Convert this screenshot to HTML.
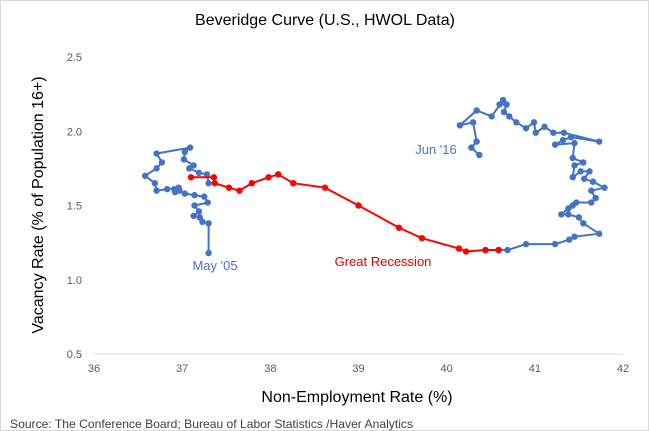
<!DOCTYPE html>
<html><head><meta charset="utf-8"><style>
body{margin:0;background:#fff;}
svg{display:block;font-family:"Liberation Sans",sans-serif;}
</style></head><body>
<svg id="chart" width="649" height="431">
<rect x="0.5" y="0.5" width="648" height="430" fill="#fff" stroke="#d9d9d9"/>
<text x="325" y="25" text-anchor="middle" font-size="16" fill="#000">Beveridge Curve (U.S., HWOL Data)</text>
<text transform="translate(43,205) rotate(-90)" text-anchor="middle" font-size="16" fill="#000">Vacancy Rate (% of Population 16+)</text>
<text x="357" y="402" text-anchor="middle" font-size="16" fill="#000">Non-Employment Rate (%)</text>
<text x="10" y="428" font-size="12" textLength="403" lengthAdjust="spacingAndGlyphs" fill="#404040">Source: The Conference Board; Bureau of Labor Statistics /Haver Analytics</text>
<g id="axes"></g>
<g id="series"></g>
<text x="215" y="270" text-anchor="middle" font-size="13" fill="#4472c4">May '05</text>
<text x="383" y="266" text-anchor="middle" font-size="13" fill="#e00000">Great Recession</text>
<text x="436" y="154" text-anchor="middle" font-size="13" fill="#4472c4">Jun '16</text>
</svg>
<script>
const xTicks=[36,37,38,39,40,41,42];
const yTicks=[0.5,1.0,1.5,2.0,2.5];
const preX=[37.30,37.30,37.23,37.20,37.13,37.19,37.14,37.29,37.25,37.14,37.03,36.97,36.92,36.91,36.96,36.83,36.71,36.69,36.58,36.71,36.77,36.71,37.09,37.03,37.02,37.13,37.08,37.19,37.28,37.30];
const preY=[1.18,1.38,1.39,1.42,1.43,1.46,1.50,1.52,1.56,1.57,1.58,1.60,1.59,1.61,1.62,1.61,1.60,1.65,1.70,1.75,1.79,1.85,1.89,1.86,1.81,1.77,1.75,1.72,1.71,1.65];
const recX=[37.10,37.36,37.37,37.53,37.65,37.79,37.98,38.09,38.26,38.62,39.00,39.46,39.72,40.14,40.22,40.44,40.59];
const recY=[1.69,1.69,1.65,1.62,1.60,1.65,1.69,1.71,1.65,1.62,1.50,1.35,1.28,1.21,1.19,1.20,1.20];
const postX=[40.59,40.69,40.90,41.23,41.39,41.45,41.73,41.55,41.50,41.38,41.30,41.38,41.43,41.47,41.64,41.69,41.64,41.79,41.66,41.56,41.62,41.52,41.43,41.45,41.55,41.43,41.45,41.23,41.32,41.41,41.73,41.33,41.21,41.11,41.01,40.99,40.90,40.79,40.71,40.65,40.68,40.60,40.64,40.51,40.34,40.15,40.30,40.34,40.28,40.37];
const postY=[1.20,1.20,1.24,1.24,1.27,1.29,1.31,1.38,1.42,1.44,1.44,1.48,1.50,1.52,1.52,1.55,1.60,1.62,1.66,1.68,1.73,1.73,1.69,1.77,1.79,1.82,1.92,1.91,1.94,1.96,1.93,1.99,1.99,2.03,1.99,2.06,2.02,2.06,2.10,2.13,2.18,2.18,2.21,2.10,2.14,2.04,2.06,1.93,1.89,1.84];
const NS="http://www.w3.org/2000/svg";
const X0=94,X1=623,Y0=354,Y1=57;
const sx=v=>X0+(v-36)/6*(X1-X0);
const sy=v=>Y0-(v-0.5)/2*(Y0-Y1);
const axes=document.getElementById('axes'),series=document.getElementById('series');
function mk(tag,attrs,parent){const e=document.createElementNS(NS,tag);for(const k in attrs)e.setAttribute(k,attrs[k]);parent.appendChild(e);return e;}
const base=mk('line',{x1:X0,x2:X1,y1:sy(0.5),y2:sy(0.5),stroke:'#d9d9d9'},axes);


yTicks.forEach(t=>{const e=mk('text',{x:X0-12,y:sy(t)+4,'text-anchor':'end','font-size':11,fill:'#595959'},axes);e.textContent=t.toFixed(1);

});
xTicks.forEach(t=>{const e=mk('text',{x:sx(t),y:372,'text-anchor':'middle','font-size':11,fill:'#595959'},axes);e.textContent=t;

});
function draw(xs,ys,color,name){
  const pts=xs.map((x,i)=>sx(x)+','+sy(ys[i])).join(' ');
  const pl=mk('polyline',{points:pts,fill:'none',stroke:color,'stroke-width':2},series);
  
  
  xs.forEach((x,i)=>{const c=mk('circle',{cx:sx(x),cy:sy(ys[i]),r:3.2,fill:color},series);
  
  });
}
draw(preX,preY,'#4472c4','pre-recession');
draw(postX,postY,'#4472c4','post-recession');
draw(recX,recY,'#ff0000','great-recession');
</script>
</body></html>
